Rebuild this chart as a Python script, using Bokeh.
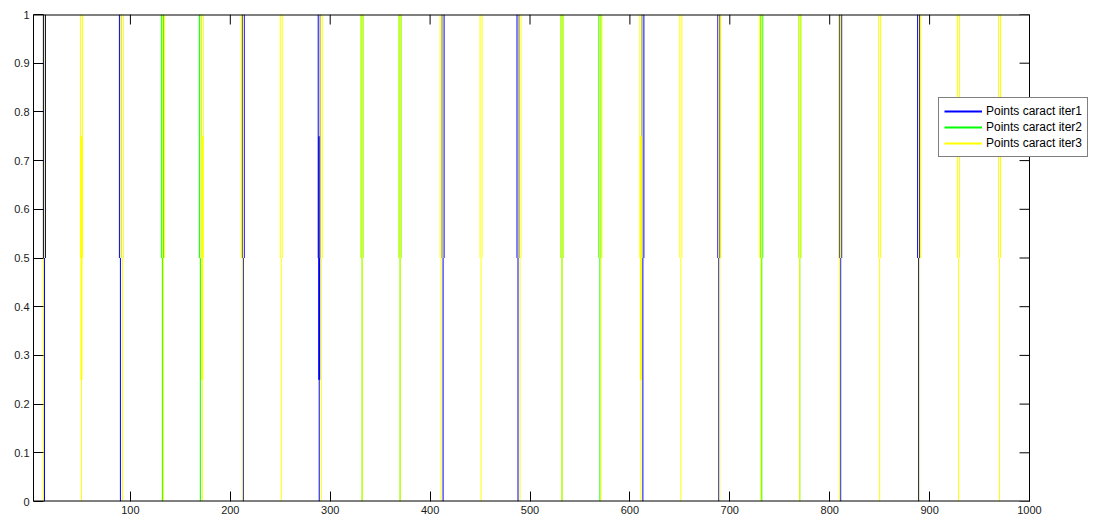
import math
from bokeh.plotting import figure
from bokeh.models import Range1d, FixedTicker, Legend, LegendItem
from bokeh.embed import file_html
from bokeh.resources import INLINE

# ---- data ----
series_names = ["Points caract iter1", "Points caract iter2", "Points caract iter3"]
series_colors = ["#0000FF", "#00FF00", "#FFFF00"]

# positions of the characteristic points of each iteration
iter1_x = [14, 90, 213, 289, 413, 488, 613, 689, 811, 889]
iter2_x = [132, 170, 332, 370, 532, 570, 732, 770]
iter3_x = [13, 51, 92, 133, 172, 212, 251, 291, 332, 370, 411, 451, 490,
           532, 571, 611, 651, 690, 731, 770, 810, 850, 890, 929, 970]

# levels of each notch
level_top = 1.0
level_mid = 0.5
level_bottom = 0.0

# points where a second, darker stroke covers 0.25..0.75
iter1_overlap_x = [289]
iter3_overlap_x = [51, 172, 611]
overlap_low = 0.25
overlap_high = 0.75

x_ticks = [100, 200, 300, 400, 500, 600, 700, 800, 900, 1000]
y_ticks = [0, 0.1, 0.2, 0.3, 0.4, 0.5, 0.6, 0.7, 0.8, 0.9, 1]
y_tick_labels = ["0", "0.1", "0.2", "0.3", "0.4", "0.5", "0.6", "0.7", "0.8", "0.9", "1"]
x_min, x_max = 3, 1000
y_min, y_max = 0, 1

# ---- layout (pixels) ----
W, H = 1092, 520
LEFT, TOP, BOTTOM_Y, AXES_RIGHT = 33, 14, 501, 1029   # axes box in page pixels
frame_w = W - LEFT
px_per_unit = (AXES_RIGHT - LEFT) / (x_max - x_min)
x_end = x_min + frame_w / px_per_unit   # frame runs past the axes box so the legend fits

p = figure(width=W, height=H, x_range=Range1d(x_min, x_end), y_range=Range1d(y_min, y_max),
           output_backend="svg", toolbar_location=None,
           min_border_left=LEFT, min_border_right=0, min_border_top=TOP,
           min_border_bottom=H - BOTTOM_Y)
p.grid.visible = False
p.outline_line_color = None
p.background_fill_color = "white"
p.border_fill_color = "white"

FONT = "Liberation Sans"

for ax in (p.xaxis[0], p.yaxis[0]):
    ax.major_tick_line_color = "black"
    ax.major_tick_in = 10
    ax.major_tick_out = 0
    ax.minor_tick_line_color = None
    ax.major_label_text_font = FONT
    ax.major_label_text_font_size = "11px"
    ax.major_label_text_color = "#1a1a1a"
    ax.major_label_standoff = 4
p.xaxis.ticker = FixedTicker(ticks=x_ticks)
p.yaxis.ticker = FixedTicker(ticks=y_ticks)
p.yaxis.major_label_overrides = {t: s for t, s in zip(y_ticks, y_tick_labels)}
p.yaxis.axis_line_color = "black"
p.xaxis.axis_line_color = None   # drawn below, only up to x_max

# data lines (blue first, yellow on top)
legend_items = []
all_x = [iter1_x, iter2_x, iter3_x]
all_overlap = [iter1_overlap_x, [], iter3_overlap_x]
for name, color, xs, ov in zip(series_names, series_colors, all_x, all_overlap):
    seg_x, seg_y = [], []
    for x in xs:
        seg_x += [[x - 1, x - 1], [x + 1, x + 1], [x, x]]
        seg_y += [[level_mid, level_top], [level_mid, level_top], [level_bottom, level_mid]]
    p.multi_line(xs=seg_x, ys=seg_y, line_color=color, line_width=1)
    if ov:
        p.segment(x0=ov, y0=[overlap_low] * len(ov), x1=ov, y1=[overlap_high] * len(ov),
                  line_color=color, line_width=2)
    # legend key for this series: a one-point line (draws nothing in the plot)
    key = p.line(x=[xs[0]], y=[level_top], line_color=color, line_width=2)
    legend_items.append(LegendItem(label=name, renderers=[key]))

# axes box: bottom, top and right edges, plus inward ticks on top and right
p.segment(x0=[x_min, x_min], y0=[y_min, y_max], x1=[x_max, x_max], y1=[y_min, y_max],
          line_color="black", line_width=2)
p.segment(x0=[x_max], y0=[y_min], x1=[x_max], y1=[y_max], line_color="black", line_width=1)
p.ray(x=x_ticks, y=[y_max] * len(x_ticks), length=10, length_units="screen",
      angle=-math.pi / 2, line_color="black", line_width=1)
p.ray(x=[x_max] * len(y_ticks), y=y_ticks, length=10, length_units="screen",
      angle=math.pi, line_color="black", line_width=1)

legend = Legend(items=legend_items, location=(905, 344))
legend.margin = 0
legend.padding = 5
legend.spacing = 0
legend.glyph_width = 38
legend.glyph_height = 16
legend.label_height = 16
legend.label_standoff = 4
legend.label_text_font = FONT
legend.label_text_font_size = "12px"
legend.label_text_color = "black"
legend.border_line_color = "black"
legend.border_line_width = 1
legend.background_fill_color = "white"
legend.background_fill_alpha = 1
p.add_layout(legend, "center")

open("out.html", "w").write(file_html(p, INLINE))
